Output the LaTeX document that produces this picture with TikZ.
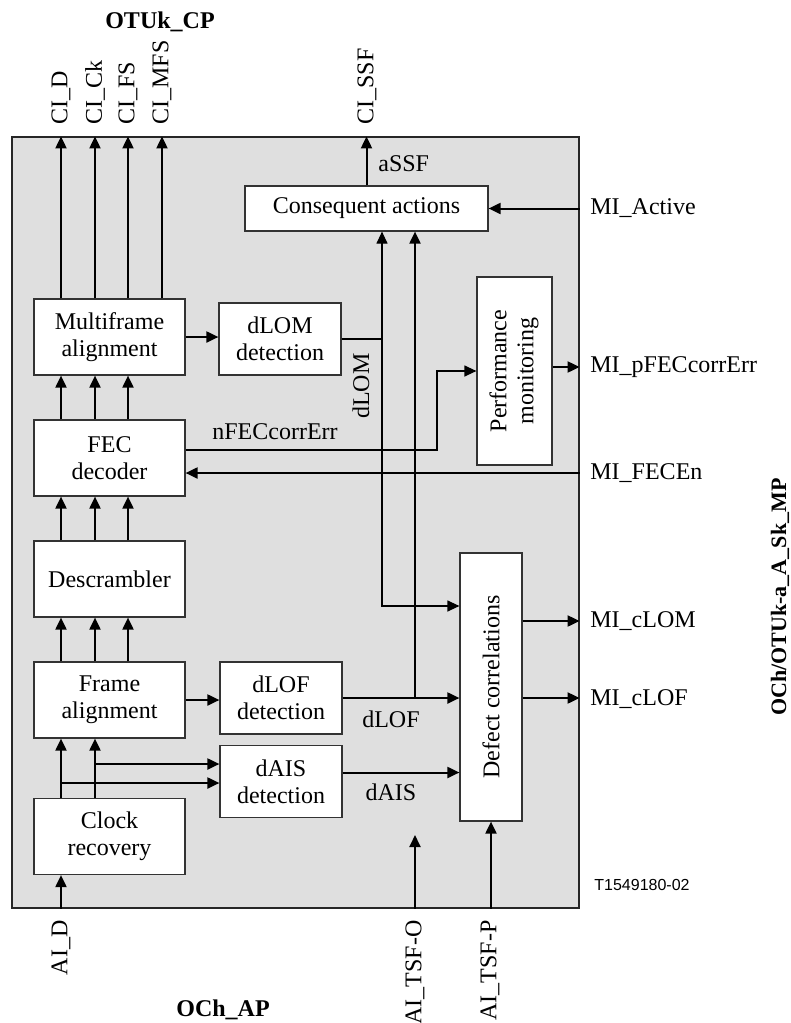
\documentclass[tikz,border=0pt]{standalone}
\usepackage{fontspec}
\setmainfont{Liberation Serif}
\setsansfont{Liberation Sans}
\usetikzlibrary{arrows.meta}
\tikzset{
  >={Triangle[length=6pt,width=5.5pt]},
  blk/.style={draw=black!80, fill=white, line width=0.6pt, align=center, font=\fontsize{12}{13.5}\selectfont, inner sep=0pt},
  wide/.style={blk, minimum width=75.5pt, minimum height=38pt},
  det/.style={blk, minimum width=61pt, minimum height=36pt},
  sig/.style={->, line width=1pt},
  thin/.style={line width=0.6pt},
  lbl/.style={font=\fontsize{12}{13.5}\selectfont, inner sep=1pt},
  port/.style={lbl, rotate=90},
  ttl/.style={font=\fontsize{12}{14}\selectfont\bfseries, inner sep=1pt},
}

\begin{document}
\begin{tikzpicture}[x=0.5pt, y=-0.5pt]
  \useasboundingbox (0,0) rectangle (791,1023);
  % sink function frame
  \node[draw=black!85, fill=gray!25, line width=0.6pt, minimum width=283.5pt, minimum height=385.5pt, inner sep=0pt] (sk) at (295.5,522.5) {};
  % left column
  \node[wide] (ma)   at (109.5,337)   {Multiframe\\alignment};
  \node[wide] (fec)  at (109.5,458)   {FEC\\decoder};
  \node[wide] (desc) at (109.5,579)   {Descrambler};
  \node[wide] (fa)   at (109.5,700)   {Frame\\alignment};
  \node[wide] (cr)   at (109.5,836.5) {Clock\\recovery};
  % detectors
  \node[det] (lom) at (280,339)   {dLOM\\detection};
  \node[det] (lof) at (281,698)   {dLOF\\detection};
  \node[det] (ais) at (281,781.5) {dAIS\\detection};
  % right hand blocks
  \node[blk, minimum width=121.5pt, minimum height=22.5pt] (ca) at (366.5,208.5) {Consequent actions};
  \node[blk, minimum width=37.5pt, minimum height=94pt] (pm) at (514.5,371)
    {\rotatebox{90}{\begin{tabular}{@{}c@{}}Performance\\monitoring\end{tabular}}};
  \node[blk, minimum width=31pt, minimum height=134pt] (dc) at (491,687) {\rotatebox{90}{Defect correlations}};

  % characteristic information out
  \foreach \x in {61,95,128,162} \draw[sig] (\x,0 |- ma.north) -- (\x,0 |- sk.north);
  \draw[sig] (ca.north) -- (ca.north |- sk.north);
  % data path
  \foreach \a/\b in {fa/desc,desc/fec,fec/ma}
    \foreach \x in {61,95,128} \draw[sig] (\x,0 |- \a.north) -- (\x,0 |- \b.south);
  \foreach \x in {61,95} \draw[sig] (\x,0 |- cr.north) -- (\x,0 |- fa.south);
  \draw[sig] (95,764) -- (95,764 -| ais.west);
  \draw[sig] (61,783) -- (61,783 -| ais.west);
  % defects
  \draw[sig] (ma.east) -- (ma.east -| lom.west);
  \draw[sig] (fa.east) -- (fa.east -| lof.west);
  \draw[thin] (lom.east) -- (lom.east -| 382,0) coordinate (jlom);
  \draw[sig, thin] (jlom) -- (jlom |- ca.south);
  \draw[sig, thin] (jlom) |- (dc.west |- 0,606);
  \draw[sig] (lof.east) -- (lof.east -| dc.west);
  \coordinate (jlof) at (lof.east -| 415,0);
  \draw[sig] (jlof) -- (jlof |- ca.south);
  \draw[sig] ([yshift=4.5pt]ais.east) -- ([yshift=4.5pt]ais.east -| dc.west);
  % management
  \draw[sig] (sk.east |- ca.east) -- (ca.east);
  \draw[sig] (pm.east |- 0,367) -- (sk.east |- 0,367);
  \draw[sig, thin] (fec.east |- 0,450) -- (437,450) |- (pm.west);
  \draw[sig] (sk.east |- 0,473) -- (fec.east |- 0,473);
  \draw[sig] (dc.east |- 0,621) -- (sk.east |- 0,621);
  \draw[sig] (dc.east |- lof.east) -- (sk.east |- lof.east);
  % adapted information in
  \draw[sig] (61,0 |- sk.south) -- (61,0 |- cr.south);
  \draw[sig] (415,0 |- sk.south) -- (415,835);
  \draw[sig] (dc.south |- sk.south) -- (dc.south);

  % labels
  \node[ttl] (cp) at (160,22) {OTUk\_CP};
  \node[ttl] (ap) at (223,1010) {OCh\_AP};
  \node[ttl, rotate=90, font=\fontsize{11}{13}\selectfont\bfseries] (mp) at (780,597) {OCh/OTUk-a\_A\_Sk\_MP};
  \foreach \x/\t/\n in {61/CI\_D/cid, 95/CI\_Ck/cick, 128/CI\_FS/cifs, 162/CI\_MFS/cimfs, 367/CI\_SSF/cissf}
    \node[port, anchor=west] (\n) at (\x,127) {\t};
  \foreach \x/\t/\n in {61/AI\_D/aid, 415/AI\_TSF-O/aitsfo, 490/AI\_TSF-P/aitsfp}
    \node[port, anchor=east] (\n) at (\x,918) {\t};
  \foreach \y/\t/\n in {208/MI\_Active/miact, 367/MI\_pFECcorrErr/mipfec, 473/MI\_FECEn/mifecen, 621/MI\_cLOM/miclom, 699/MI\_cLOF/miclof}
    \node[lbl, anchor=west] (\n) at (588,\y) {\t};
  \node[lbl, anchor=west] (assf) at (376,164) {aSSF};
  \node[lbl] (nfec) at (275,432) {nFECcorrErr};
  \node[port] (dlom) at (361,386) {dLOM};
  \node[lbl] (dlof) at (391,719) {dLOF};
  \node[lbl] (dais) at (391,792) {dAIS};
  \node[font=\sffamily\fontsize{8}{9}\selectfont] (fig) at (642,885) {T1549180-02};
\end{tikzpicture}
\end{document}
